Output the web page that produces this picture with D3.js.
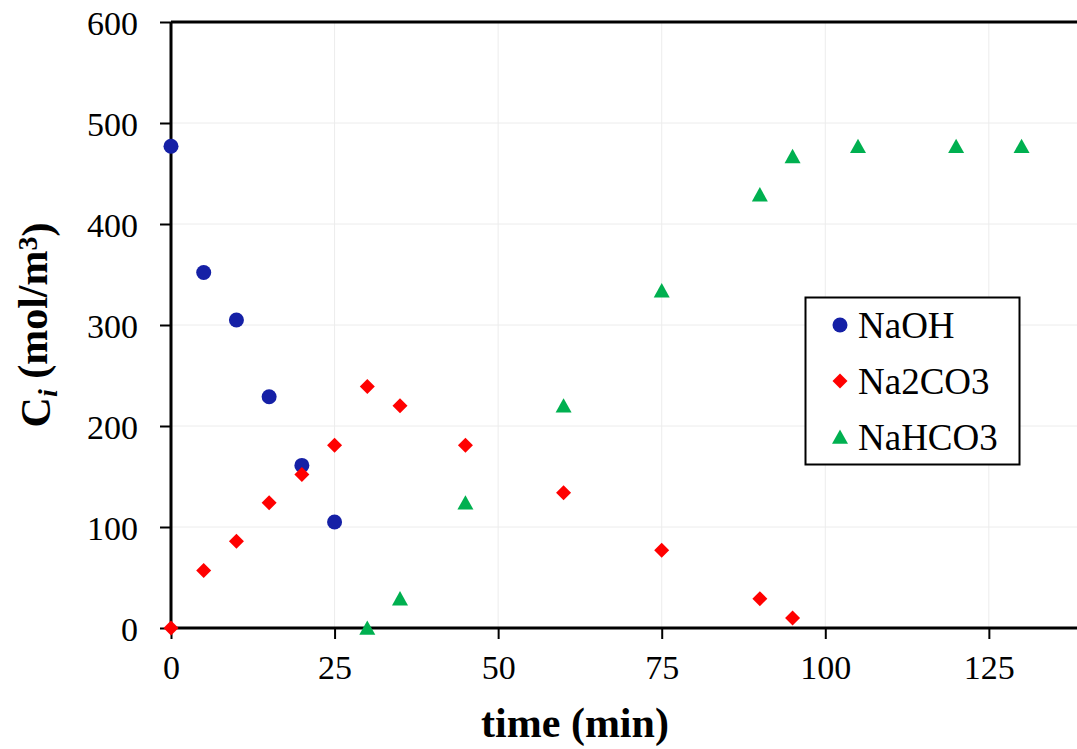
<!DOCTYPE html>
<html>
<head>
<meta charset="utf-8">
<script src="https://cdn.jsdelivr.net/npm/d3@7"></script>
<style>
  html, body { margin: 0; padding: 0; background: #fff; }
  svg { display: block; font-family: "Liberation Serif", "Times New Roman", serif; }
</style>
</head>
<body>
<svg id="chart" width="1077" height="749"></svg>
<script>
// Concentration of each species over reaction time
const seriesNames = ["NaOH", "Na2CO3", "NaHCO3"];

const naohTime = [0, 5, 10, 15, 20, 25];
const naohConc = [477, 352, 305, 229, 161, 105];

const na2co3Time = [0, 5, 10, 15, 20, 25, 30, 35, 45, 60, 75, 90, 95];
const na2co3Conc = [0, 57, 86, 124, 152, 181, 239, 220, 181, 134, 77, 29, 10];

const nahco3Time = [30, 35, 45, 60, 75, 90, 95, 105, 120, 130];
const nahco3Conc = [0, 29, 124, 220, 334, 429, 467, 477, 477, 477];

const xTicks = [0, 25, 50, 75, 100, 125];
const yTicks = [0, 100, 200, 300, 400, 500, 600];

const svg = d3.select("#chart");
const plotLeft = 171, plotTop = 22, plotBottom = 628, plotRight = 1087;

const x = d3.scaleLinear().domain([0, 140]).range([plotLeft, plotRight]);
const y = d3.scaleLinear().domain([0, 600]).range([plotBottom, plotTop]);

// marker shapes
const diamond = {
  draw(ctx, size) {
    const h = Math.sqrt(size) / 2;
    ctx.moveTo(0, -h); ctx.lineTo(h, 0); ctx.lineTo(0, h); ctx.lineTo(-h, 0); ctx.closePath();
  }
};
const triangle = {
  draw(ctx, size) {
    const w = Math.sqrt(size) / 2;
    ctx.moveTo(0, -w * 0.95); ctx.lineTo(w, w * 0.85); ctx.lineTo(-w, w * 0.85); ctx.closePath();
  }
};
const series = [
  { name: seriesNames[0], t: naohTime, c: naohConc, color: "#1520a6", shape: d3.symbolCircle, size: Math.PI * 7.5 * 7.5 },
  { name: seriesNames[1], t: na2co3Time, c: na2co3Conc, color: "#ff0000", shape: diamond, size: 15 * 15 },
  { name: seriesNames[2], t: nahco3Time, c: nahco3Conc, color: "#00b050", shape: triangle, size: 16 * 16 }
];

// gridlines
const grid = svg.append("g");
grid.selectAll("line.gx").data(xTicks.filter(d => d > 0)).enter().append("line")
  .attr("x1", d => x(d)).attr("x2", d => x(d)).attr("y1", plotTop).attr("y2", plotBottom)
  .attr("stroke", "#ececec").attr("stroke-width", 1);
grid.selectAll("line.gy").data(yTicks.filter(d => d > 0)).enter().append("line")
  .attr("x1", plotLeft).attr("x2", plotRight).attr("y1", d => y(d)).attr("y2", d => y(d))
  .attr("stroke", "#ececec").attr("stroke-width", 1);

// frame: top border
svg.append("line").attr("x1", plotLeft).attr("x2", plotRight).attr("y1", plotTop).attr("y2", plotTop)
  .attr("stroke", "#000").attr("stroke-width", 3);

// axes
const xAxis = svg.append("g").attr("transform", `translate(0,${plotBottom})`)
  .call(d3.axisBottom(x).tickValues(xTicks).tickSize(11).tickPadding(16).tickFormat(d3.format("d")));
const yAxis = svg.append("g").attr("transform", `translate(${plotLeft},0)`)
  .call(d3.axisLeft(y).tickValues(yTicks).tickSize(11).tickPadding(22).tickFormat(d3.format("d")));

[xAxis, yAxis].forEach(a => {
  a.select(".domain").attr("stroke", "#000").attr("stroke-width", 3);
  a.selectAll(".tick line").attr("stroke", "#000").attr("stroke-width", 2);
  a.selectAll(".tick text").attr("fill", "#000")
    .style("font-family", '"Liberation Serif", serif').style("font-size", "34px");
});
yAxis.select(".domain").attr("d", `M0,${plotBottom}V${plotTop}`);
xAxis.select(".domain").attr("d", `M${plotLeft},0H${plotRight}`);
xAxis.selectAll(".tick text").attr("dy", "0.71em");
yAxis.selectAll(".tick text").attr("dy", "0.36em");

// axis titles
svg.append("text")
  .attr("x", 575).attr("y", 737)
  .attr("text-anchor", "middle")
  .style("font-size", "42px").style("font-weight", "bold")
  .text("time (min)");

const yt = svg.append("text")
  .attr("transform", `translate(50,325) rotate(-90)`)
  .attr("text-anchor", "middle")
  .style("font-size", "42px").style("font-weight", "bold");
yt.append("tspan").text("C");
yt.append("tspan").attr("dy", "0.25em").style("font-size", "28px").style("font-style", "italic").text("i");
yt.append("tspan").attr("dy", "-0.25em").text(" (mol/m");
yt.append("tspan").attr("dy", "-0.35em").style("font-size", "28px").text("3");
yt.append("tspan").attr("dy", "0.35em").text(")");

// data markers
series.forEach(s => {
  const sym = d3.symbol().type(s.shape).size(s.size);
  svg.append("g").selectAll("path").data(s.t.map((t, i) => [t, s.c[i]])).enter().append("path")
    .attr("d", sym)
    .attr("transform", d => `translate(${x(d[0])},${y(d[1])})`)
    .attr("fill", s.color);
});

// legend
const lg = svg.append("g");
lg.append("rect").attr("x", 805.5).attr("y", 297.5).attr("width", 214).attr("height", 167)
  .attr("fill", "#fff").attr("stroke", "#000").attr("stroke-width", 2);
const rowY = [325, 381, 437];
series.forEach((s, i) => {
  lg.append("path").attr("d", d3.symbol().type(s.shape).size(s.size)())
    .attr("transform", `translate(840,${rowY[i]})`).attr("fill", s.color);
  lg.append("text").attr("x", 858).attr("y", rowY[i]).attr("dy", "0.34em")
    .style("font-size", "37px").text(s.name);
});
</script>
</body>
</html>
